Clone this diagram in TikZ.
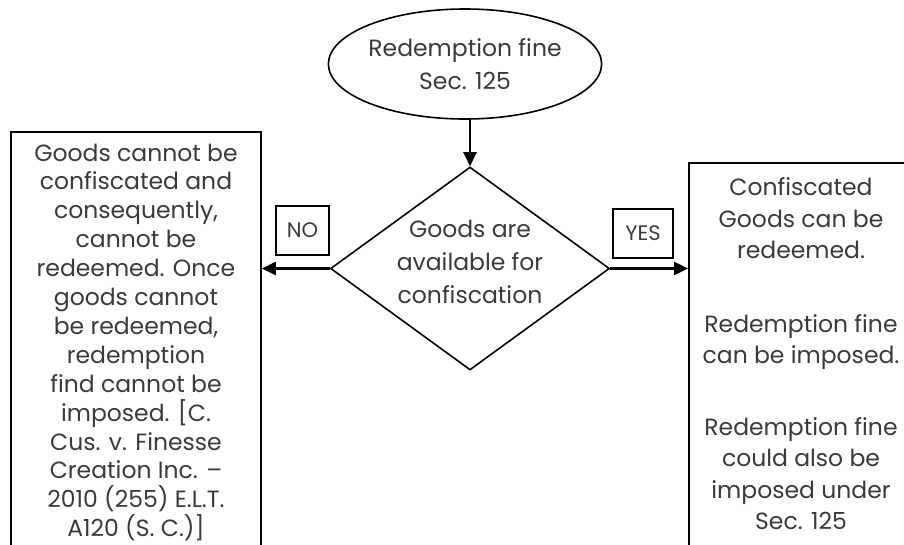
\documentclass[tikz,border=0pt]{standalone}
\usepackage{fontspec}
\setmainfont{Poppins}
\usetikzlibrary{shapes.geometric,arrows.meta}
\definecolor{txtgray}{HTML}{3A3A3A}
\begin{document}
\begin{tikzpicture}[x=1pt,y=-1pt,
  every node/.style={text=txtgray, align=center, inner sep=0pt},
  bodytext/.style={font=\fontsize{23.5}{28.9}\selectfont},
  widetext/.style={font=\fontsize{23.5}{33}\selectfont},
  shapeline/.style={draw=black, line width=1.6pt},
  conn/.style={draw=black, line width=2.4pt, -{Triangle[length=14pt,width=13pt]}},
  tagbox/.style={draw=black, line width=1.6pt, font=\fontsize{21}{24}\selectfont}]
\useasboundingbox (0,0) rectangle (904,544);
% start ellipse
\node[shapeline, ellipse, minimum width=270pt, minimum height=110pt, widetext] (start) at (465,64) {Redemption fine\\Sec. 125};
% decision
\node[shapeline, diamond, minimum width=279pt, minimum height=203pt] (dec) at (470,268.5) {};
\node[widetext] (dectext) at (470,261.5) {Goods are\\available for\\confiscation};
% left box
\node[shapeline, minimum width=250pt, minimum height=440pt, anchor=north] (nobox) at (136,131) {};
\node[bodytext, anchor=north] (notext) at (136,143.5) {Goods cannot be\\confiscated and\\consequently,\\cannot be\\redeemed. Once\\goods cannot\\be redeemed,\\redemption\\find cannot be\\imposed. [C.\\Cus. v. Finesse\\Creation Inc. --\\2010 (255) E.L.T.\\A120 (S. C.)]};
% right box
\node[shapeline, minimum width=300pt, minimum height=420pt, anchor=north west] (yesbox) at (688,162) {};
\node[font=\fontsize{23.5}{31.5}\selectfont, anchor=north] (yestext) at (801,177.5) {Confiscated\\Goods can be\\redeemed.\\[42pt]Redemption fine\\can be imposed.\\[40pt]Redemption fine\\could also be\\imposed under\\Sec. 125};
% tags
\node[tagbox, minimum width=53pt, minimum height=49pt] (no) at (302.5,230.5) {NO};
\node[tagbox, minimum width=60pt, minimum height=49pt] (yes) at (643,233.5) {YES};
% connectors
\draw[conn] (dec.north |- start.south) -- (dec.north);
\draw[conn] (dec.west) -- (dec.west -| nobox.east);
\draw[conn] (dec.east) -- (dec.east -| yesbox.west);
\end{tikzpicture}
\end{document}
